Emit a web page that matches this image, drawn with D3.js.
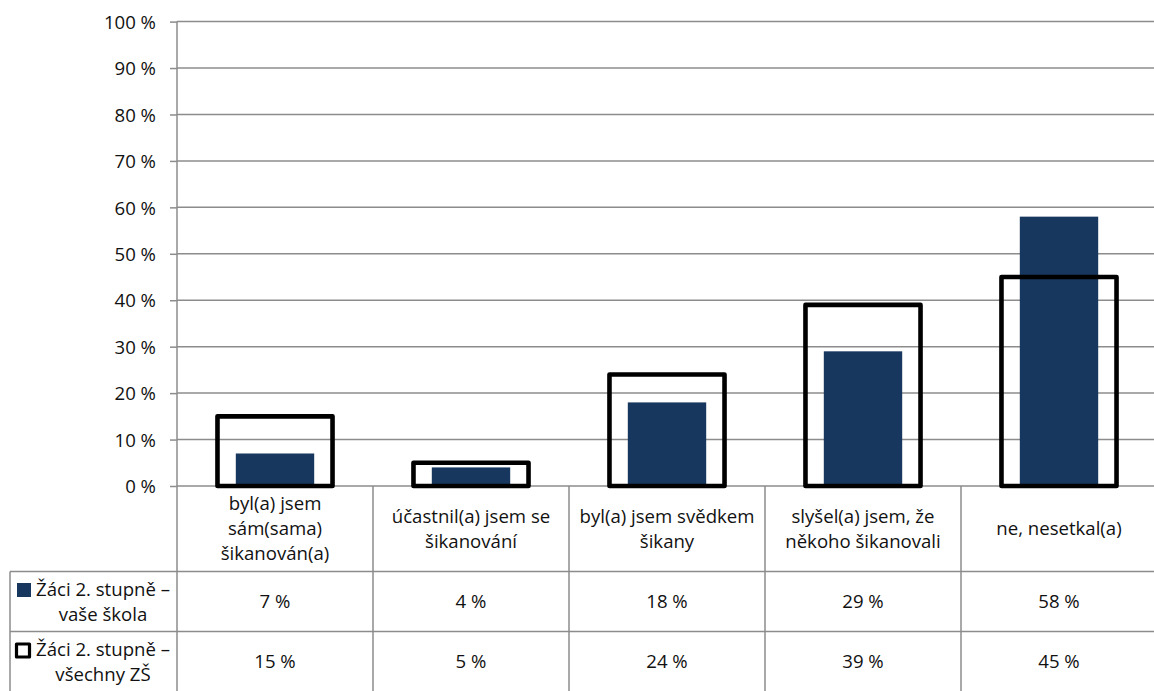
<!DOCTYPE html>
<html>
<head>
<meta charset="utf-8">
<script src="https://cdn.jsdelivr.net/npm/d3@7"></script>
<style>
html,body{margin:0;padding:0;background:#fff;}
svg{display:block;}
text{font-family:"Open Sans","Liberation Sans",sans-serif;fill:#111;}
</style>
</head>
<body>
<svg id="chart" width="1154" height="691"></svg>
<script>
const categories = [
  "byl(a) jsem\nsám(sama)\nšikanován(a)",
  "účastnil(a) jsem se\nšikanování",
  "byl(a) jsem svědkem\nšikany",
  "slyšel(a) jsem, že\nněkoho šikanovali",
  "ne, nesetkal(a)"
];
const seriesNames = ["Žáci 2. stupně –\nvaše škola", "Žáci 2. stupně –\nvšechny ZŠ"];
const schoolValues = [7, 4, 18, 29, 58];
const allValues = [15, 5, 24, 39, 45];
const yTicks = [0, 10, 20, 30, 40, 50, 60, 70, 80, 90, 100];

const svg = d3.select("#chart");
const W = 1154, H = 691;
const axisX = 177, plotRight = 1157;
const y0 = 486, y100 = 21.6;
const fs = 18.6;
const FONT = '"Open Sans","Liberation Sans",sans-serif';

const x = d3.scaleBand().domain(d3.range(categories.length)).range([axisX, plotRight]).padding(0);
const y = d3.scaleLinear().domain([0, 100]).range([y0, y100]);
const gridColor = "#8c8c8c";

// gridlines
svg.append("g").selectAll("line").data(yTicks).join("line")
  .attr("x1", axisX).attr("x2", W)
  .attr("y1", d => y(d)).attr("y2", d => y(d))
  .attr("stroke", gridColor).attr("stroke-width", 1.5);

// y axis
const yAxis = d3.axisLeft(y).tickValues(yTicks).tickSize(7).tickPadding(14)
  .tickFormat(d => d + " %");
const ga = svg.append("g").attr("transform", `translate(${axisX},0)`).call(yAxis);
ga.select(".domain").remove();
ga.selectAll(".tick line").attr("stroke", gridColor).attr("stroke-width", 1.5);
ga.selectAll(".tick text").attr("font-size", fs).attr("fill", "#111")
  .attr("font-family", FONT).attr("dy", "0.36em");

// bars (school) - filled navy
const bw = x.bandwidth();
svg.append("g").selectAll("rect").data(schoolValues).join("rect")
  .attr("x", (d, i) => x(i) + bw * 0.3)
  .attr("width", bw * 0.4)
  .attr("y", d => y(d))
  .attr("height", d => y0 - y(d))
  .attr("fill", "#17375e");

// outlines (all schools)
svg.append("g").selectAll("rect").data(allValues).join("rect")
  .attr("x", (d, i) => x(i) + bw * 0.2065)
  .attr("width", bw * 0.587)
  .attr("y", d => y(d))
  .attr("height", d => y0 - y(d))
  .attr("fill", "none")
  .attr("stroke", "#000")
  .attr("stroke-width", 4.6)
  .attr("stroke-linejoin", "round");

// axis line
svg.append("line").attr("x1", axisX).attr("x2", axisX).attr("y1", y100).attr("y2", H)
  .attr("stroke", gridColor).attr("stroke-width", 1.5);

// table
const rowTop = [486, 571.5, 631.5, 691.5];
const legendLeft = 10;
const tg = svg.append("g");
tg.selectAll("line.v").data(d3.range(1, categories.length + 1)).join("line")
  .attr("class", "v")
  .attr("x1", i => x(i - 1) + bw).attr("x2", i => x(i - 1) + bw)
  .attr("y1", y0).attr("y2", H)
  .attr("stroke", gridColor).attr("stroke-width", 1.5);
tg.selectAll("line.h").data([rowTop[1], rowTop[2]]).join("line")
  .attr("class", "h")
  .attr("x1", legendLeft).attr("x2", W)
  .attr("y1", d => d).attr("y2", d => d)
  .attr("stroke", gridColor).attr("stroke-width", 1.5);
tg.append("line").attr("x1", legendLeft).attr("x2", legendLeft)
  .attr("y1", rowTop[1]).attr("y2", H)
  .attr("stroke", gridColor).attr("stroke-width", 1.5);

const lh = 25;
function multiline(g, str, cx, cy) {
  const lines = str.split("\n");
  const t = g.append("text").attr("text-anchor", "middle").attr("font-size", fs);
  lines.forEach((ln, k) => {
    t.append("tspan").attr("x", cx)
      .attr("y", cy + 6.5 + (k - (lines.length - 1) / 2) * lh)
      .text(ln);
  });
  return t;
}

categories.forEach((c, i) => {
  multiline(tg, c, x(i) + bw / 2, (rowTop[0] + rowTop[1]) / 2);
});

const rows = [schoolValues, allValues];
rows.forEach((vals, r) => {
  const cy = (rowTop[r + 1] + rowTop[r + 2]) / 2;
  vals.forEach((v, i) => {
    tg.append("text").attr("text-anchor", "middle").attr("font-size", fs)
      .attr("x", x(i) + bw / 2).attr("y", cy + 6.5).text(v + " %");
  });
  multiline(tg, seriesNames[r], 103, cy);
});

// legend keys
tg.append("rect").attr("x", 17).attr("y", 583).attr("width", 14).attr("height", 14)
  .attr("fill", "#17375e");
tg.append("rect").attr("x", 16.5).attr("y", 644).attr("width", 13).attr("height", 13)
  .attr("fill", "#fff").attr("stroke", "#000").attr("stroke-width", 3.2)
  .attr("stroke-linejoin", "round");
</script>
</body>
</html>
